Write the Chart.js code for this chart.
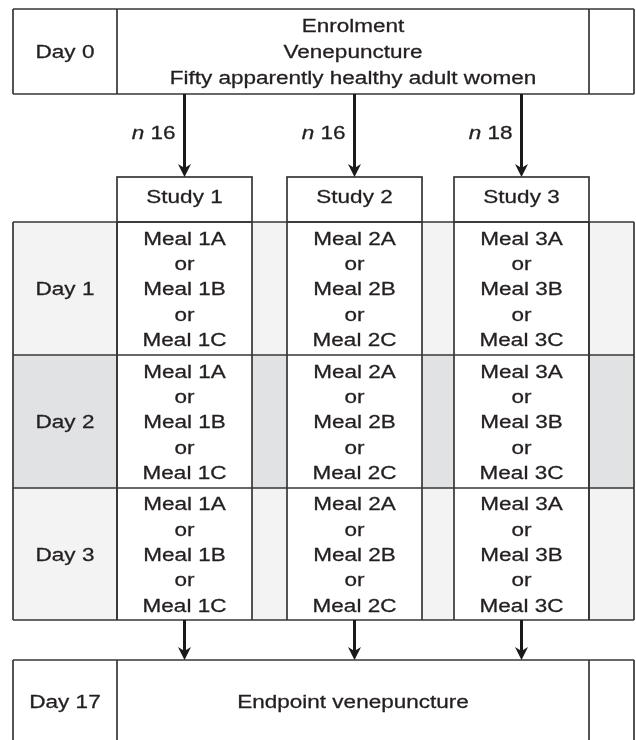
<!DOCTYPE html>
<html>
<head>
<meta charset="utf-8">
<script src="https://cdn.jsdelivr.net/npm/chart.js@4.4.1/dist/chart.umd.min.js"></script>
<style>
  html, body { margin: 0; background: #fff; }
  canvas { display: block; }
</style>
</head>
<body>
<canvas id="flow" width="636" height="740"></canvas>
<script>
// --- content of the flow diagram ---
const startDay = "Day 0"
const enrolmentLines = ["Enrolment", "Venepuncture", "Fifty apparently healthy adult women"]
const studies = ["Study 1", "Study 2", "Study 3"]
const groupSizes = [16, 16, 18]
const days = ["Day 1", "Day 2", "Day 3"]
const meals = [
  ["Meal 1A", "Meal 1B", "Meal 1C"],
  ["Meal 2A", "Meal 2B", "Meal 2C"],
  ["Meal 3A", "Meal 3B", "Meal 3C"]
]
const endDay = "Day 17"
const endLabel = "Endpoint venepuncture"

// --- layout, in scale units (x: 0..636, y: 0..740 top-down) ---
const frame = { left: 13, right: 634, dayCol: 117, tailCol: 589 }
const studyCols = [[117, 252], [287, 422], [454, 589]]
const topBox = [9, 94]
const headRow = [177, 222]
const rowEdges = [222, 355, 488, 620]
const bottomBox = [660, 760]
const lineGap = 25.3

const rowFills = ["#f3f3f3", "#e1e2e4", "#f3f3f3"]
const border = "#363636"
const ink = "#231f20"
const fontSize = 18
const stretch = 1.25
const family = "'Liberation Sans', Arial, sans-serif"

const flowPlugin = {
  id: "flow",
  afterDraw(chart) {
    const ctx = chart.ctx
    const sx = chart.scales.x
    const sy = chart.scales.y
    const x = (v) => sx.getPixelForValue(v)
    const y = (v) => sy.getPixelForValue(v)

    const line = (x0, y0, x1, y1) => {
      ctx.beginPath()
      ctx.moveTo(x(x0), y(y0))
      ctx.lineTo(x(x1), y(y1))
      ctx.stroke()
    }

    // text is placed by its cap-centre and drawn a little wider than the font
    const put = (s, px) => {
      ctx.fillText(s, px, 0)
      ctx.strokeText(s, px, 0)
    }
    const text = (str, cx, cy, align = "center", italicPrefix = null) => {
      ctx.save()
      ctx.translate(x(cx), y(cy) + fontSize * 0.36)
      ctx.scale(stretch, 1)
      ctx.fillStyle = ink
      ctx.strokeStyle = ink
      ctx.lineWidth = 0.28
      ctx.textBaseline = "alphabetic"
      if (italicPrefix) {
        ctx.font = `italic ${fontSize}px ${family}`
        const w1 = ctx.measureText(italicPrefix).width
        ctx.font = `${fontSize}px ${family}`
        const w2 = ctx.measureText(str).width
        const start = align === "right" ? -(w1 + w2) : -(w1 + w2) / 2
        ctx.textAlign = "left"
        ctx.font = `italic ${fontSize}px ${family}`
        put(italicPrefix, start)
        ctx.font = `${fontSize}px ${family}`
        put(str, start + w1)
      } else {
        ctx.font = `${fontSize}px ${family}`
        ctx.textAlign = align
        put(str, 0)
      }
      ctx.restore()
    }

    const arrow = (cx, y0, tip) => {
      const ax = x(cx)
      const ty = y(tip)
      ctx.save()
      ctx.strokeStyle = "#1a1a1a"
      ctx.fillStyle = "#1a1a1a"
      ctx.lineWidth = 3
      ctx.beginPath()
      ctx.moveTo(ax, y(y0))
      ctx.lineTo(ax, ty - 8)
      ctx.stroke()
      ctx.beginPath()
      ctx.moveTo(ax, ty)
      ctx.lineTo(ax - 6.5, ty - 13)
      ctx.lineTo(ax, ty - 9)
      ctx.lineTo(ax + 6.5, ty - 13)
      ctx.closePath()
      ctx.fill()
      ctx.restore()
    }

    const mid = (a, b) => (a + b) / 2
    const { left, right, dayCol, tailCol } = frame

    ctx.save()

    // row shading, study columns stay white
    days.forEach((_, i) => {
      ctx.fillStyle = rowFills[i]
      ctx.fillRect(x(left), y(rowEdges[i]), x(right) - x(left), y(rowEdges[i + 1]) - y(rowEdges[i]))
    })
    ctx.fillStyle = "#fff"
    studyCols.forEach(([a, b]) => {
      ctx.fillRect(x(a), y(rowEdges[0]), x(b) - x(a), y(rowEdges[rowEdges.length - 1]) - y(rowEdges[0]))
    })

    ctx.strokeStyle = border
    ctx.lineWidth = 1.7

    // top and bottom boxes
    ;[topBox, bottomBox].forEach(([t, b]) => {
      line(left, t, right, t)
      line(left, b, right, b)
      ;[left, dayCol, tailCol, right].forEach((v) => line(v, t, v, b))
    })

    // study header boxes
    studyCols.forEach(([a, b]) => {
      ctx.strokeRect(x(a), y(headRow[0]), x(b) - x(a), y(headRow[1]) - y(headRow[0]))
    })

    // grid
    const gTop = rowEdges[0]
    const gBot = rowEdges[rowEdges.length - 1]
    rowEdges.forEach((r) => line(left, r, right, r))
    ;[left, dayCol, tailCol, right].forEach((v) => line(v, gTop, v, gBot))
    studyCols.forEach(([a, b]) => {
      line(a, gTop, a, gBot)
      line(b, gTop, b, gBot)
    })

    // texts
    const topMid = mid(topBox[0], topBox[1])
    text(startDay, mid(left, dayCol), topMid)
    enrolmentLines.forEach((s, i) => {
      text(s, mid(dayCol, tailCol), topMid + (i - 1) * 26)
    })

    studies.forEach((s, i) => {
      const cx = mid(studyCols[i][0], studyCols[i][1])
      text(s, cx, mid(headRow[0], headRow[1]) - 2.5)
      text(" " + groupSizes[i], cx - 9, 133, "right", "n")
      arrow(cx, topBox[1], headRow[0])
      arrow(cx, gBot, bottomBox[0])
    })

    days.forEach((d, r) => {
      const cy = mid(rowEdges[r], rowEdges[r + 1]) + 0.5
      text(d, mid(left, dayCol), cy)
      meals.forEach((m, c) => {
        const cx = mid(studyCols[c][0], studyCols[c][1])
        const lines = [m[0], "or", m[1], "or", m[2]]
        lines.forEach((s, k) => text(s, cx, cy + (k - 2) * lineGap))
      })
    })

    const botMid = 702
    text(endDay, mid(left, dayCol), botMid)
    text(endLabel, mid(dayCol, tailCol), botMid)

    ctx.restore()
  }
}

new Chart(document.getElementById("flow"), {
  type: "scatter",
  data: { datasets: [] },
  options: {
    responsive: false,
    animation: false,
    layout: { padding: 0 },
    plugins: {
      legend: { display: false },
      tooltip: { enabled: false }
    },
    scales: {
      x: { type: "linear", display: false, min: 0, max: 636 },
      y: { type: "linear", display: false, min: 0, max: 740, reverse: true }
    }
  },
  plugins: [flowPlugin]
})
</script>
</body>
</html>
